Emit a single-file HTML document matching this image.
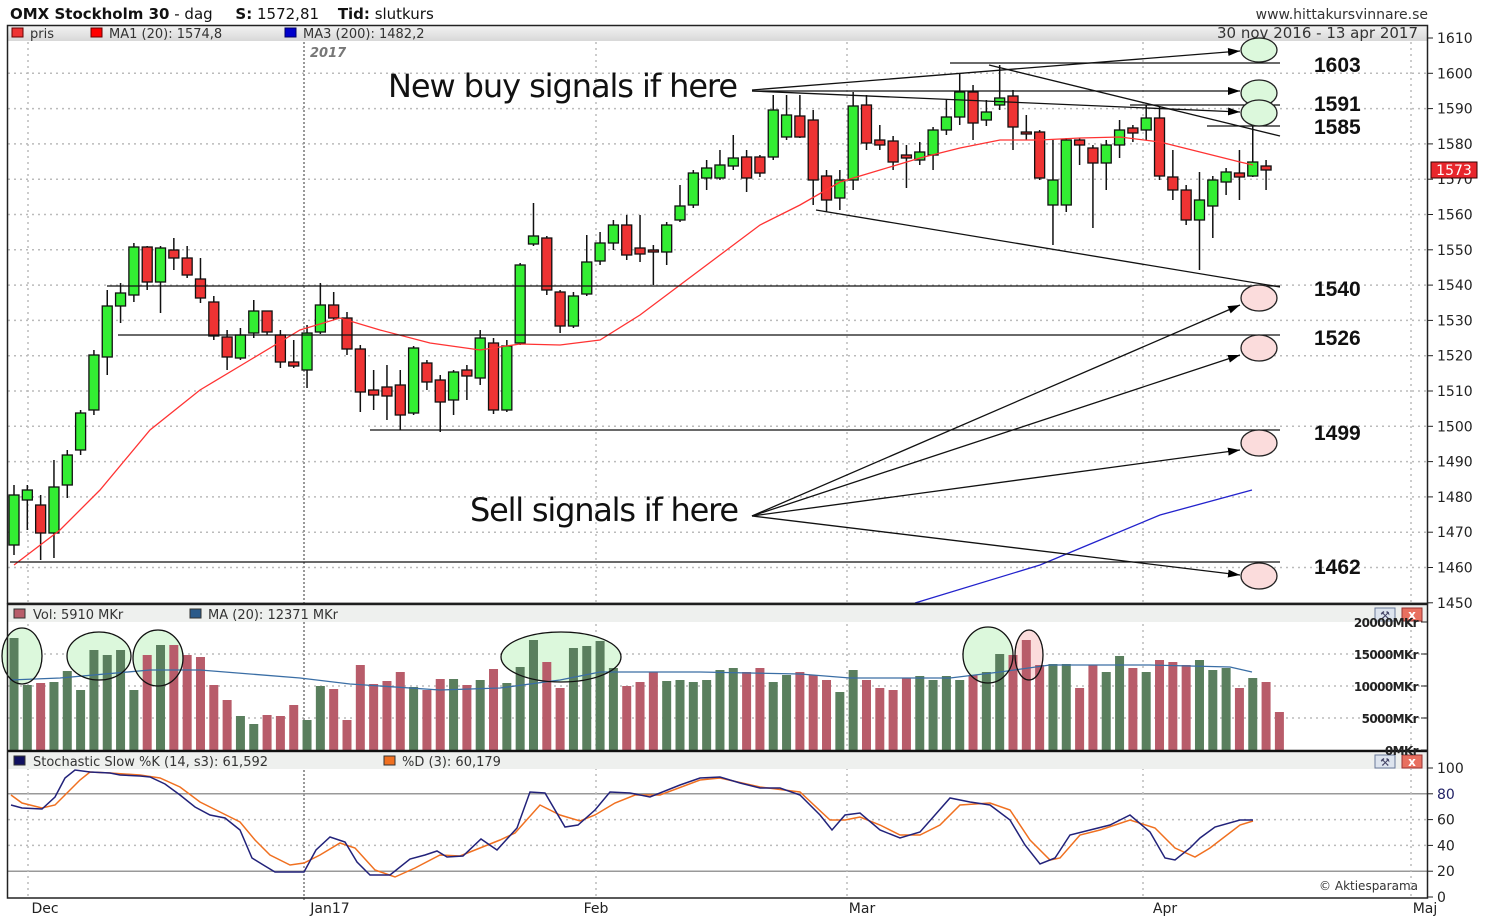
<!DOCTYPE html>
<html><head><meta charset="utf-8"><style>
body{margin:0;background:#fff;width:1500px;height:924px;overflow:hidden}
svg{display:block;font-family:"DejaVu Sans","Liberation Sans",sans-serif}
</style></head><body>
<svg id="s" width="1500" height="924" xmlns="http://www.w3.org/2000/svg">
<defs>
<linearGradient id="hb" x1="0" y1="0" x2="0" y2="1"><stop offset="0" stop-color="#f4f4f4"/><stop offset="1" stop-color="#d8d8d8"/></linearGradient>
<marker id="ar" markerWidth="12" markerHeight="8" refX="12" refY="4" orient="auto" markerUnits="userSpaceOnUse"><path d="M0,0 L12,4 L0,8 z" fill="#000"/></marker>
</defs>
<rect width="1500" height="924" fill="#fff"/>
<g id="grid"></g>
<!-- header -->
<text x="10" y="19" font-size="15" fill="#111"><tspan font-weight="bold">OMX Stockholm 30</tspan> -  dag <tspan dx="18" font-weight="bold">S:</tspan> 1572,81 <tspan dx="14" font-weight="bold">Tid:</tspan> slutkurs</text>
<text x="1428" y="19" font-size="14" fill="#333" text-anchor="end">www.hittakursvinnare.se</text>
<rect x="7" y="25" width="1420" height="16" fill="url(#hb)"/>
<rect x="12" y="28" width="11" height="9" fill="#e33" stroke="#600" stroke-width="1"/><text x="30" y="38" font-size="13" fill="#333">pris</text>
<rect x="91" y="28" width="11" height="9" fill="#f00" stroke="#600"/><text x="109" y="38" font-size="13" fill="#333">MA1 (20): 1574,8</text>
<rect x="285" y="28" width="11" height="9" fill="#00c" stroke="#006"/><text x="303" y="38" font-size="13" fill="#333">MA3 (200): 1482,2</text>
<text x="1418" y="38" font-size="15" fill="#333" text-anchor="end">30 nov 2016 - 13 apr 2017</text>
<text x="310" y="57" font-size="13" fill="#777" font-style="italic" font-weight="bold">2017</text>
<!-- vol header -->
<rect x="8" y="606" width="1419" height="16" fill="#eef0ee"/>
<rect x="14" y="609" width="11" height="9" fill="#b85c6a" stroke="#333"/><text x="33" y="619" font-size="13" fill="#333">Vol: 5910 MKr</text>
<rect x="190" y="609" width="11" height="9" fill="#2a5a8a" stroke="#333"/><text x="208" y="619" font-size="13" fill="#333">MA (20): 12371 MKr</text>
<rect x="8" y="753" width="1419" height="16" fill="#eef0ee"/>
<rect x="14" y="756" width="11" height="9" fill="#101060" stroke="#333"/><text x="33" y="766" font-size="13" fill="#333">Stochastic Slow %K (14, s3): 61,592</text>
<rect x="384" y="756" width="11" height="9" fill="#f07020" stroke="#333"/><text x="402" y="766" font-size="13" fill="#333">%D (3): 60,179</text>
<g id="plot"></g>
<!-- frames -->
<rect x="7.5" y="25.5" width="1420" height="578" fill="none" stroke="#222" stroke-width="1.5"/>
<line x1="7" y1="604" x2="1428" y2="604" stroke="#111" stroke-width="2.5"/>
<line x1="7" y1="751" x2="1428" y2="751" stroke="#111" stroke-width="2.5"/>
<rect x="7.5" y="604" width="1420" height="294" fill="none" stroke="#222" stroke-width="1.5"/>
<g fill="#dde4ee" stroke="#6a7a9a"><rect x="1375" y="608" width="20" height="13"/><rect x="1375" y="755" width="20" height="13"/></g>
<g fill="#e87060" stroke="#933"><rect x="1402" y="608" width="20" height="13"/><rect x="1402" y="755" width="20" height="13"/></g>
<text x="1412" y="619" font-size="12" fill="#fff" font-weight="bold" text-anchor="middle">x</text><text x="1412" y="766" font-size="12" fill="#fff" font-weight="bold" text-anchor="middle">x</text>
<text x="1385" y="619" font-size="11" text-anchor="middle" fill="#446">⚒</text><text x="1385" y="766" font-size="11" text-anchor="middle" fill="#446">⚒</text>
<text x="1418" y="890" font-size="12" fill="#333" text-anchor="end">© Aktiesparama</text>
<g font-size="14" fill="#222" text-anchor="middle"><text x="45" y="913">Dec</text><text x="330" y="913">Jan17</text><text x="596" y="913">Feb</text><text x="862" y="913">Mar</text><text x="1165" y="913">Apr</text><text x="1425" y="913">Maj</text></g>
<g id="ax" font-size="14" fill="#222"></g>
<rect x="1431" y="162" width="46" height="16" fill="#e8262c" stroke="#300"/><text x="1454" y="175" font-size="14" fill="#fff" text-anchor="middle">1573</text>
<!-- annotations -->
<g stroke="#111" stroke-width="1.3" fill="none">
<line x1="950" y1="63" x2="1280" y2="63"/>
<line x1="1130" y1="105" x2="1280" y2="105"/>
<line x1="1207" y1="126" x2="1280" y2="126"/>
<line x1="989" y1="65" x2="1280" y2="136"/>
<line x1="816" y1="210" x2="1280" y2="287"/>
<line x1="107" y1="286" x2="1280" y2="286"/>
<line x1="118" y1="335" x2="1280" y2="335"/>
<line x1="370" y1="430" x2="1280" y2="430"/>
<line x1="10" y1="562" x2="1280" y2="562"/>
<line x1="752" y1="90" x2="1240" y2="51" marker-end="url(#ar)"/>
<line x1="752" y1="91" x2="1240" y2="91" marker-end="url(#ar)"/>
<line x1="752" y1="91" x2="1240" y2="112" marker-end="url(#ar)"/>
<line x1="752" y1="516" x2="1240" y2="305" marker-end="url(#ar)"/>
<line x1="752" y1="516" x2="1240" y2="355" marker-end="url(#ar)"/>
<line x1="752" y1="516" x2="1240" y2="450" marker-end="url(#ar)"/>
<line x1="752" y1="516" x2="1240" y2="575" marker-end="url(#ar)"/>
</g>
<g stroke="#222" stroke-width="1.3" fill="#dcf8dc">
<ellipse cx="1259" cy="50" rx="18" ry="12"/><ellipse cx="1259" cy="93" rx="18" ry="13"/><ellipse cx="1259" cy="113" rx="18" ry="13"/>
</g>
<g stroke="#222" stroke-width="1.3" fill="#fbdcdc">
<ellipse cx="1259" cy="298" rx="18" ry="13"/><ellipse cx="1259" cy="348" rx="18" ry="13"/><ellipse cx="1259" cy="443" rx="18" ry="13"/><ellipse cx="1259" cy="576" rx="18" ry="13"/>
</g>
<g font-size="21" font-weight="bold" fill="#111" font-family="'Liberation Sans',sans-serif"><text x="1314" y="72">1603</text><text x="1314" y="111">1591</text><text x="1314" y="134">1585</text><text x="1314" y="296">1540</text><text x="1314" y="345">1526</text><text x="1314" y="440">1499</text><text x="1314" y="574">1462</text></g>
<text x="388" y="97" font-size="32" fill="#111" font-family="'DejaVu Sans',sans-serif" textLength="350">New buy signals if here</text>
<text x="470" y="521" font-size="32" fill="#111" font-family="'DejaVu Sans',sans-serif" textLength="269">Sell signals if here</text>
</svg>
<script>
const NS="http://www.w3.org/2000/svg";
function el(p,t,a){const e=document.createElementNS(NS,t);for(const k in a)e.setAttribute(k,a[k]);p.appendChild(e);return e;}
const grid=document.getElementById('grid'),plot=document.getElementById('plot'),ax=document.getElementById('ax');
const dot={stroke:"#bbb","stroke-width":1.5,"stroke-dasharray":"2,4"};
for(let p=1450;p<=1610;p+=10){const y=38+(1610-p)*3.53;
 if(p<1610&&p>1450)el(grid,'line',Object.assign({x1:8,x2:1427,y1:y,y2:y},dot));
 el(ax,'line',{x1:1427,x2:1433,y1:y,y2:y,stroke:'#222'});
 const t=el(ax,'text',{x:1437,y:y+5});t.textContent=p;}
[[654,'15000MKr'],[686,'10000MKr'],[718,'5000MKr'],[622,'20000MKr'],[750,'0MKr']].forEach(([y,l],i)=>{
 if(i<3)el(grid,'line',Object.assign({x1:8,x2:1427,y1:y,y2:y},dot));
 el(ax,'line',{x1:1421,x2:1427,y1:y,y2:y,stroke:'#222'});
 const t=el(ax,'text',{x:1418,y:y+5,"text-anchor":"end","font-size":12,"font-weight":"bold","letter-spacing":"-0.6"});t.textContent=l;});
for(let v=0;v<=100;v+=20){const y=897-v*1.29;
 if(v==40||v==60||v==100)el(grid,'line',Object.assign({x1:8,x2:1427,y1:y,y2:y},dot));
 if(v==20||v==80)el(grid,'line',{x1:8,x2:1427,y1:y,y2:y,stroke:'#999','stroke-width':1.5});
 el(ax,'line',{x1:1427,x2:1433,y1:y,y2:y,stroke:'#222'});
 const t=el(ax,'text',{x:1437,y:y+5,fill:v==80?'#226':'#222'});t.textContent=v;}
[28,596,847,1143,1411].forEach(x=>el(grid,'line',Object.assign({x1:x,x2:x,y1:42,y2:897},dot)));
el(grid,'line',{x1:304,x2:304,y1:42,y2:900,stroke:"#999","stroke-width":2,"stroke-dasharray":"2,2"});
const C=[[545,495,485,555],[500,490,485,530],[505,533,495,560],[533,487,460,558],[485,455,450,498],[450,413,410,455],[410,355,350,415],[357,306,290,375],[306,293,283,323],[295,247,243,302],[247,282,246,290],[282,248,246,313],[250,258,238,270],[258,275,246,278],[279,298,258,303],[302,336,296,340],[337,357,330,370],[358,335,328,360],[333,311,300,338],[311,332,311,335],[335,362,330,368],[362,366,340,368],[370,333,325,388],[332,305,283,334],[305,318,292,320],[318,349,312,355],[349,392,345,412],[390,395,370,410],[387,396,365,420],[385,415,370,430],[413,348,346,415],[363,382,360,390],[380,402,375,432],[400,372,370,415],[370,376,365,400],[378,338,330,385],[343,410,338,414],[410,346,340,412],[343,265,263,345],[244,236,203,246],[238,290,236,295],[292,326,290,333],[326,296,292,328],[294,262,235,296],[261,243,232,265],[243,225,220,250],[225,255,215,260],[248,254,215,262],[250,252,245,285],[252,225,222,265],[220,206,185,222],[205,173,170,208],[178,168,160,190],[178,165,150,180],[166,158,135,170],[157,178,150,192],[157,173,155,177],[157,110,95,160],[137,115,95,140],[116,137,95,138],[120,180,110,205],[176,200,170,212],[198,180,170,210],[180,106,92,190],[105,143,95,150],[140,145,125,150],[141,162,136,170],[155,158,145,188],[160,152,142,165],[155,130,127,170],[130,117,100,135],[117,92,73,125],[92,123,85,140],[120,112,100,126],[105,98,65,110],[96,127,90,150],[132,134,115,140],[132,178,130,180],[205,180,140,245],[205,140,138,212],[140,145,138,165],[148,163,145,228],[163,145,140,190],[145,130,120,158],[128,133,125,142],[130,118,105,140],[118,176,106,180],[177,190,150,200],[190,220,185,225],[220,200,172,270],[206,180,176,238],[182,172,168,195],[173,177,150,200],[176,162,125,177],[166,170,160,190]];
const X=i=>14+i*13.32;
C.forEach((c,i)=>{const x=X(i);const up=c[1]<c[0];
 el(plot,'line',{x1:x,x2:x,y1:c[2],y2:c[3],stroke:'#111','stroke-width':1.5});
 const t=Math.min(c[0],c[1]),h=Math.max(2,Math.abs(c[0]-c[1]));
 el(plot,'rect',{x:x-5,y:t,width:10,height:h,fill:up?'#33ee33':'#ee3333',stroke:'#111','stroke-width':1.3});});
const pl=(pts,col,w)=>el(plot,'polyline',{points:pts.map(p=>p.join(',')).join(' '),fill:'none',stroke:col,'stroke-width':w});
pl([[14,565],[60,530],[100,490],[150,430],[200,390],[250,360],[300,330],[340,318],[380,330],[430,343],[480,350],[520,344],[560,345],[600,340],[640,315],[680,285],[720,255],[760,225],[800,205],[840,182],[880,170],[920,158],[960,148],[1000,140],[1040,140],[1080,138],[1120,137],[1160,142],[1200,152],[1240,162],[1253,165]],'#f33',1.3);
pl([[915,603],[1040,565],[1100,540],[1160,515],[1252,490]],'#22c',1.3);
const E=[[22,656,20,28,'#dcf8dc'],[99,656,32,24,'#dcf8dc'],[158,658,25,28,'#dcf8dc'],[561,657,60,25,'#dcf8dc'],[988,655,25,28,'#dcf8dc'],[1029,655,14,25,'#fbdcdc']];
E.forEach(e=>el(plot,'ellipse',{cx:e[0],cy:e[1],rx:e[2],ry:e[3],fill:e[4]}));
const V=[638,685,683,682,671,690,650,655,650,690,655,645,645,655,657,685,700,716,724,715,716,705,720,686,689,720,665,684,681,672,687,690,679,679,685,680,669,683,667,640,662,688,648,646,641,668,686,682,672,681,680,682,680,670,668,672,668,682,675,672,675,680,692,670,680,688,690,678,676,680,676,680,675,672,654,655,640,665,664,664,688,665,672,656,668,672,660,662,665,660,670,668,688,678,682,712];
V.forEach((y,i)=>{const up=i<C.length?C[i][1]<C[i][0]:false;el(plot,'rect',{x:X(i)-4.5,y:y,width:9,height:750-y,fill:up?'#5a7f5e':'#b85c6a'});});
pl([[10,680],[60,678],[150,670],[200,670],[250,674],[300,678],[350,684],[440,690],[500,688],[560,680],[600,672],[700,672],[800,674],[850,678],[950,678],[1000,672],[1050,665],[1150,665],[1230,667],[1252,672]],'#3a6ea5',1.3);
E.forEach(e=>el(plot,'ellipse',{cx:e[0],cy:e[1],rx:e[2],ry:e[3],fill:'none',stroke:'#111','stroke-width':1.3}));
pl([[11,795],[22,803],[42,808],[55,805],[65,795],[80,780],[90,772],[110,773],[140,775],[160,778],[180,787],[200,802],[220,812],[240,822],[255,840],[270,855],[290,865],[304,863],[320,855],[340,843],[355,848],[375,870],[395,877],[415,868],[440,855],[460,856],[480,848],[500,840],[515,833],[540,805],[560,815],[580,821],[595,815],[615,803],[635,795],[660,795],[700,780],[720,778],[760,787],[800,792],[830,820],[845,820],[860,817],[880,825],[900,835],[920,835],[940,825],[960,805],[990,803],[1010,810],[1030,840],[1050,860],[1060,858],[1080,835],[1100,830],[1130,820],[1155,828],[1175,848],[1195,857],[1210,848],[1240,825],[1253,821]],'#f07020',1.5);
pl([[11,805],[22,808],[42,809],[55,797],[65,778],[75,770],[90,772],[110,773],[120,775],[140,776],[150,777],[165,784],[180,795],[195,807],[210,815],[225,818],[240,830],[252,858],[265,866],[275,872],[304,872],[316,850],[330,837],[345,842],[357,862],[370,875],[390,875],[410,859],[425,855],[437,851],[447,857],[463,856],[481,839],[497,850],[517,828],[530,792],[545,793],[565,827],[578,825],[595,810],[610,792],[630,793],[650,797],[680,785],[700,778],[720,777],[740,783],[760,788],[780,788],[800,795],[820,815],[832,830],[845,815],[860,813],[880,830],[900,838],[920,832],[935,815],[950,798],[970,802],[990,805],[1010,820],[1025,845],[1040,864],[1055,858],[1070,835],[1090,830],[1110,825],[1130,815],[1150,832],[1165,858],[1175,860],[1190,848],[1200,838],[1215,827],[1240,820],[1253,820]],'#22227a',1.5);
</script>
</body></html>
